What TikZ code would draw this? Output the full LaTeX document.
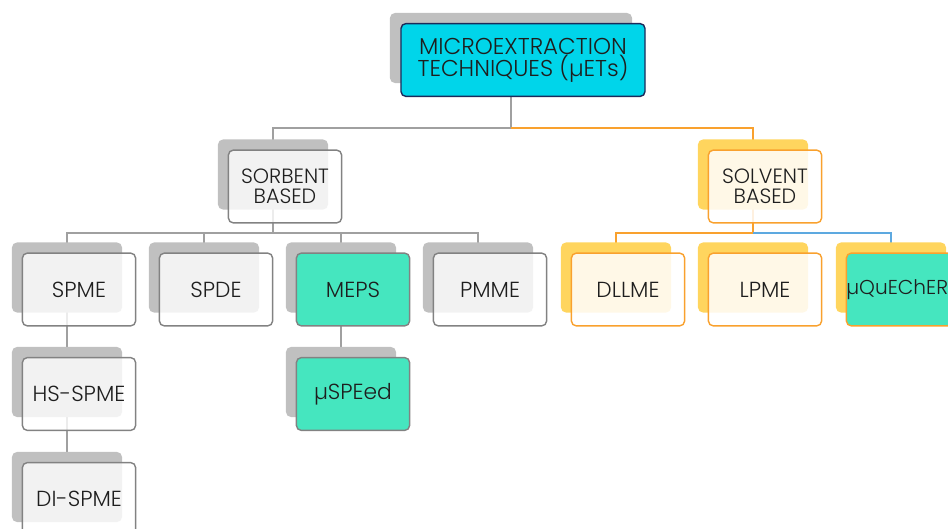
\documentclass[tikz,border=0pt]{standalone}
\usepackage{fontspec}
\setmainfont{Poppins}[UprightFont=* Light]
\usetikzlibrary{positioning,backgrounds}
\definecolor{backgray}{RGB}{192,192,192}
\definecolor{backyellow}{RGB}{255,213,94}
\definecolor{linegray}{RGB}{160,160,160}
\definecolor{boxgray}{RGB}{130,130,130}
\definecolor{solvorange}{RGB}{249,161,46}
\definecolor{rootcyan}{RGB}{0,213,234}
\definecolor{rootnavy}{RGB}{28,42,90}
\definecolor{tealfill}{RGB}{69,230,191}
\definecolor{linkblue}{RGB}{93,169,224}
\definecolor{textdark}{RGB}{30,30,30}

\begin{document}
\begin{tikzpicture}[x=0.025cm,y=-0.025cm,
  every node/.style={inner sep=0pt, outer sep=0pt, align=center, text=textdark,
    font=\fontsize{15.5}{17}\selectfont},
  backbox/.style={rounded corners=3.5pt, minimum width=2.75cm, minimum height=1.75cm},
  frontbox/.style={rounded corners=3.5pt, minimum width=2.83cm, minimum height=1.82cm,
    xshift=0.3cm, yshift=-0.3cm, line width=1pt},
  grayback/.style={backbox, fill=backgray},
  yellowback/.style={backbox, fill=backyellow},
  grayfront/.style={frontbox, draw=boxgray, fill=white, fill opacity=0.8, text opacity=1},
  solvfront/.style={frontbox, draw=solvorange, fill=white, fill opacity=0.85, text opacity=1},
  tealfront/.style={frontbox, draw=boxgray, fill=tealfill},
  midtext/.style={font=\fontsize{14.7}{14.5}\selectfont},
  grayline/.style={draw=linegray, line width=0.8pt},
  orangeline/.style={draw=solvorange, line width=0.8pt},
  blueline/.style={draw=linkblue, line width=0.8pt}]
\useasboundingbox (0,0) rectangle (948,528);

% Root
\node[grayback, minimum width=6.05cm] (roots) at (511,48) {};
\node[frontbox, minimum width=6.1cm, draw=rootnavy, fill=rootcyan,
  font=\fontsize{16.3}{15.8}\selectfont]
  (root) at (roots) {MICROEXTRACTION\\TECHNIQUES (µETs)};

% Second level
\node[grayback] (sorbs) at (273,174.5) {};
\node[grayfront, midtext] (sorb) at (sorbs) {SORBENT\\BASED};
\node[yellowback] (solvs) at (753,174.5) {};
\node[solvfront, midtext] (solv) at (solvs) {SOLVENT\\BASED};

% Sorbent row left to right
\node[grayback] (spmes) at (67,277.5) {};
\node[grayfront] (spme) at (spmes) {SPME};
\node[grayback] (spdes) at (204,277.5) {};
\node[grayfront] (spde) at (spdes) {SPDE};
\node[grayback] (mepss) at (341,277.5) {};
\node[tealfront] (meps) at (mepss) {MEPS};
\node[grayback] (pmmes) at (478,277.5) {};
\node[grayfront] (pmme) at (pmmes) {PMME};

% Solvent row left to right
\node[yellowback] (dllmes) at (616,277.5) {};
\node[solvfront] (dllme) at (dllmes) {DLLME};
\node[yellowback] (lpmes) at (753,277.5) {};
\node[solvfront] (lpme) at (lpmes) {LPME};
\node[yellowback] (quechs) at (891,277.5) {};
\node[frontbox, draw=solvorange, fill=tealfill, font=\fontsize{14.3}{17}\selectfont]
  (quech) at (quechs) {µQuEChERS};

% Lower rows
\node[grayback] (hsspmes) at (67,382) {};
\node[grayfront] (hsspme) at (hsspmes) {HS-SPME};
\node[grayback] (dispmes) at (67,487) {};
\node[grayfront] (dispme) at (dispmes) {DI-SPME};
\node[grayback] (uspeeds) at (341,382) {};
\node[tealfront] (uspeed) at (uspeeds) {µSPEed};

% Connectors
\coordinate (topbus) at (511,128);
\coordinate (sorbbus) at (273,233);
\coordinate (solvbus) at (753,233);
\begin{scope}[on background layer]
\draw[grayline] (roots.center) -- (topbus) -| (sorbs.center);
\draw[orangeline] (topbus) -| (solvs.center);
\draw[grayline] (sorbs.center) -- (sorbbus) -| (spmes.center);
\draw[grayline] (sorbbus) -| (pmmes.center);
\draw[grayline] (sorbbus) -| (spdes.center);
\draw[grayline] (sorbbus) -| (mepss.center);
\draw[orangeline] (solvs.center) -- (solvbus) -| (dllmes.center);
\draw[blueline] (solvbus) -| (quechs.center);
\draw[grayline] (spmes.center) -- (dispmes.center);
\draw[grayline] (mepss.center) -- (uspeeds.center);
\end{scope}
\end{tikzpicture}
\end{document}
